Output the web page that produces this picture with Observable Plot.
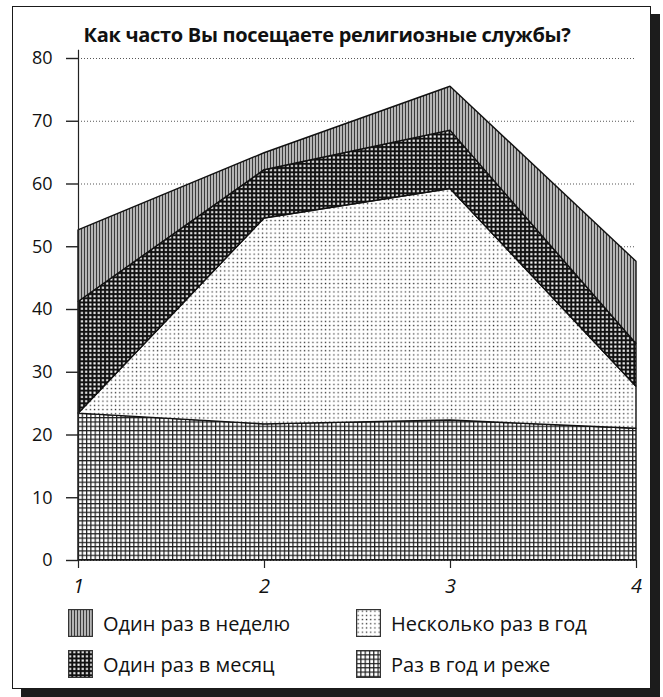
<!DOCTYPE html>
<html>
<head>
<meta charset="utf-8">
<script src="https://cdn.jsdelivr.net/npm/d3@7"></script>
<script src="https://cdn.jsdelivr.net/npm/@observablehq/plot@0.6"></script>
<style>
  html, body { margin: 0; padding: 0; background: #fff; }
  #wrap { position: relative; width: 663px; height: 697px; overflow: hidden; background: #fff; font-family: "Open Sans", "DejaVu Sans", sans-serif; }
  #frame { position: absolute; left: 12px; top: 6px; width: 637px; height: 681px; border: 1.6px solid #1a1a1a; box-shadow: 9px 8px 0 0 #1c1c1c; }
  #title { position: absolute; left: 0; width: 654px; top: 21px; text-align: center; font-weight: 700; font-size: 20px; color: #111; letter-spacing: -0.3px; }
  #chart { position: absolute; left: 0; top: 0; }
  .leg { position: absolute; display: flex; align-items: center; font-size: 20px; color: #111; }
  .leg svg { margin-right: 10px; }
</style>
</head>
<body>
<div id="wrap">
  <div id="frame"></div>
  <svg width="0" height="0" style="position:absolute">
    <defs>
      <pattern id="pWeek" width="3" height="3" patternUnits="userSpaceOnUse">
        <rect width="3" height="3" fill="#b4b4b4"/>
        <rect width="1" height="3" fill="#3a3a3a"/>
      </pattern>
      <pattern id="pMonth" width="4.2" height="4.2" patternUnits="userSpaceOnUse">
        <rect width="4.2" height="4.2" fill="#111"/>
        <rect x="1.1" y="1.1" width="2.1" height="2.1" fill="#fff"/>
      </pattern>
      <pattern id="pFew" width="4.2" height="4.2" patternUnits="userSpaceOnUse">
        <rect width="4.2" height="4.2" fill="#fff"/>
        <rect x="1.5" y="1.5" width="1.3" height="1.3" fill="#333"/>
      </pattern>
      <pattern id="pRare" width="4.3" height="4.3" patternUnits="userSpaceOnUse">
        <rect width="4.3" height="4.3" fill="#fff"/>
        <rect width="4.3" height="1.2" fill="#1e1e1e"/>
        <rect width="1.2" height="4.3" fill="#1e1e1e"/>
      </pattern>
    </defs>
  </svg>
  <div id="chart"></div>
  <div id="title">Как часто Вы посещаете религиозные службы?</div>
  <div id="legend"></div>
</div>
<script>
// ---- data ----
const xValues = [1, 2, 3, 4];
const seriesNames = ["Раз в год и реже", "Несколько раз в год", "Один раз в месяц", "Один раз в неделю"];
const rareValues  = [23.4, 21.7, 22.3, 21.0];   // Раз в год и реже
const fewValues   = [0.0, 32.8, 36.9, 6.7];     // Несколько раз в год
const monthValues = [17.8, 7.7, 9.3, 6.8];      // Один раз в месяц
const weekValues  = [11.4, 2.7, 7.0, 13.1];     // Один раз в неделю
const yTicks = [0, 10, 20, 30, 40, 50, 60, 70, 80];
const xTicks = [1, 2, 3, 4];
const patternIds = ["url(#pRare)", "url(#pFew)", "url(#pMonth)", "url(#pWeek)"];

const seriesValues = [rareValues, fewValues, monthValues, weekValues];
const data = [];
seriesNames.forEach((name, s) => {
  xValues.forEach((x, i) => data.push({x, series: name, value: seriesValues[s][i]}));
});

const chart = Plot.plot({
  width: 663,
  height: 600,
  marginTop: 58,
  marginBottom: 40,
  marginLeft: 78,
  marginRight: 27,
  style: {fontFamily: '"Open Sans", "DejaVu Sans", sans-serif', background: "transparent", color: "#111"},
  x: {domain: [1, 4]},
  y: {domain: [0, 80]},
  color: {domain: seriesNames, range: patternIds},
  marks: [
    Plot.gridY(yTicks, {stroke: "#444", strokeOpacity: 0.9, strokeDasharray: "1 2"}),
    Plot.areaY(data, Plot.stackY({x: "x", y: "value", z: "series", fill: "series", order: seriesNames,
      stroke: "#111", strokeWidth: 1.4, strokeLinejoin: "miter"})),
    Plot.ruleX([1], {y1: 0, y2: 81.3, stroke: "#222", strokeWidth: 1.2}),
    Plot.axisY(yTicks, {tickSize: 12, tickPadding: 14, fontSize: 18, stroke: "#222", strokeWidth: 1.4, label: null}),
    Plot.axisX(xTicks, {tickSize: 8, tickPadding: 10, fontSize: 20, fontStyle: "italic", stroke: "#222", strokeWidth: 1.2, label: null, tickFormat: d => String(d)})
  ]
});
document.getElementById("chart").appendChild(chart);

// legend
const legendItems = [
  {name: "Один раз в неделю", fill: "url(#pWeek)", left: 68, top: 609},
  {name: "Несколько раз в год", fill: "url(#pFew)", left: 356, top: 609},
  {name: "Один раз в месяц", fill: "url(#pMonth)", left: 68, top: 650},
  {name: "Раз в год и реже", fill: "url(#pRare)", left: 356, top: 650}
];
const legend = d3.select("#legend");
legendItems.forEach(it => {
  const row = legend.append("div").attr("class", "leg").style("left", it.left + "px").style("top", it.top + "px");
  const sw = row.append("svg").attr("width", 25).attr("height", 28);
  sw.append("rect").attr("x", 0.6).attr("y", 0.6).attr("width", 23.8).attr("height", 26.8)
    .attr("fill", it.fill).attr("stroke", "#333").attr("stroke-width", 1.2);
  row.append("span").text(it.name);
});
</script>
</body>
</html>
